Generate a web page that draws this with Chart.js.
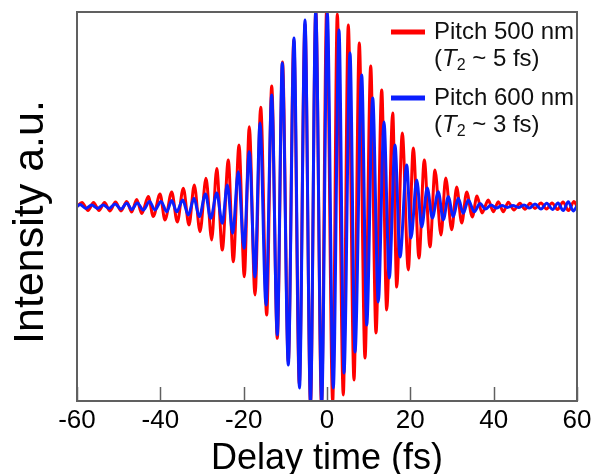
<!DOCTYPE html>
<html>
<head>
<meta charset="utf-8">
<script src="https://cdn.jsdelivr.net/npm/chart.js@4/dist/chart.umd.min.js"></script>
<style>
  html, body { margin: 0; padding: 0; background: #fff; }
  #wrap { width: 605px; height: 474px; }
</style>
</head>
<body>
<div id="wrap"><canvas id="autocorr" width="605" height="474"></canvas></div>
<script>
// Delay (fs) and normalised intensity at each peak / trough
const delayRed = [-60.00, -58.80, -57.36, -56.04, -54.72, -53.40, -52.08, -50.76, -49.44, -48.07,
  -46.87, -45.67, -44.47, -42.89, -41.69, -40.08, -38.88, -37.27, -35.93, -34.49,
  -33.12, -31.85, -30.48, -29.04, -27.67, -26.47, -25.13, -23.69, -22.49, -21.12,
  -19.85, -18.65, -17.28, -15.91, -14.47, -13.27, -11.93, -10.68, -9.29, -7.97,
  -6.65, -5.28, -3.96, -2.69, -1.32, -0.07, 1.37, 2.47, 3.91, 5.11,
  6.48, 7.75, 9.12, 10.49, 11.76, 13.13, 14.33, 15.77, 16.73, 18.07,
  19.51, 20.71, 22.08, 23.35, 24.72, 25.92, 27.36, 28.49, 29.93, 31.13,
  32.33, 33.53, 34.87, 36.00, 37.20, 38.71, 39.91, 41.11, 42.31, 43.51,
  44.88, 46.32, 47.52, 48.72, 49.92, 51.36, 52.68, 54.00, 55.32, 56.64,
  57.96, 59.28, 60.00];
const intensityRed = [0.00, 0.02, -0.02, 0.02, -0.02, 0.02, -0.023, 0.023, -0.023, 0.026,
  -0.028, 0.036, -0.036, 0.051, -0.051, 0.064, -0.069, 0.075, -0.080, 0.094,
  -0.095, 0.111, -0.130, 0.145, -0.172, 0.196, -0.224, 0.239, -0.284, 0.316,
  -0.361, 0.410, -0.455, 0.510, -0.558, 0.620, -0.678, 0.743, -0.799, 0.856,
  -0.913, 0.938, -1.02, 1.01, -1.02, 1.02, -1.005, 0.990, -0.969, 0.933,
  -0.892, 0.841, -0.779, 0.722, -0.650, 0.599, -0.532, 0.481, -0.414, 0.378,
  -0.326, 0.301, -0.265, 0.239, -0.208, 0.188, -0.147, 0.147, -0.120, 0.100,
  -0.085, 0.075, -0.054, 0.054, -0.033, 0.033, -0.027, 0.025, -0.027, 0.022,
  -0.018, 0.017, -0.014, 0.017, -0.010, 0.018, -0.013, 0.018, -0.015, 0.023,
  -0.021, 0.026, 0.00];

const delayBlue = [-60.00, -59.28, -57.84, -56.47, -55.08, -53.69, -52.32, -50.88, -49.44, -48.07,
  -46.87, -45.53, -44.09, -42.60, -41.28, -39.84, -38.47, -37.27, -36.07, -34.63,
  -33.29, -31.92, -30.65, -29.16, -27.91, -26.47, -25.13, -23.93, -22.63, -21.29,
  -19.92, -18.65, -17.28, -16.08, -14.64, -13.27, -11.93, -10.73, -9.29, -7.92,
  -6.60, -5.28, -3.96, -2.71, -1.27, 0.07, 1.51, 2.88, 4.08, 5.52,
  6.72, 8.33, 9.53, 10.97, 12.31, 13.68, 14.95, 16.32, 17.52, 19.13,
  20.16, 21.53, 22.73, 24.07, 25.27, 26.71, 27.91, 29.11, 30.31, 31.51,
  32.71, 33.91, 35.35, 36.72, 38.04, 39.36, 40.68, 42.00, 43.32, 44.64,
  45.96, 47.28, 48.60, 49.92, 51.36, 52.73, 54.12, 55.44, 56.71, 57.91,
  59.11, 60.00];
const intensityBlue = [0.00, 0.010, -0.010, 0.008, -0.010, 0.008, -0.010, 0.013, -0.013, 0.017,
  -0.015, 0.018, -0.018, 0.026, -0.018, 0.026, -0.027, 0.031, -0.027, 0.033,
  -0.044, 0.042, -0.052, 0.064, -0.061, 0.069, -0.086, 0.111, -0.138, 0.179,
  -0.215, 0.282, -0.362, 0.429, -0.506, 0.573, -0.660, 0.738, -0.815, 0.866,
  -0.933, 0.959, -1.005, 1.005, -1.010, 0.995, -0.933, 0.907, -0.856, 0.789,
  -0.748, 0.676, -0.609, 0.558, -0.491, 0.434, -0.368, 0.316, -0.260, 0.213,
  -0.162, 0.136, -0.105, 0.095, -0.059, 0.076, -0.069, 0.050, -0.052, 0.042,
  -0.035, 0.033, -0.027, 0.015, -0.013, 0.008, -0.008, 0.005, -0.005, 0.005,
  -0.005, 0.008, -0.008, 0.013, -0.013, 0.017, -0.015, 0.018, -0.021, 0.025,
  -0.023, 0.003];

const seriesLabels = ['Pitch 500 nm', 'Pitch 600 nm'];
const dephasingTimes = ['5 fs', '3 fs'];
const seriesColors = ['#ff0000', '#0a1eff'];
const xTicks = [-60, -40, -20, 0, 20, 40, 60];

const FONT = '"Liberation Sans", Arial, Helvetica, sans-serif';
Chart.defaults.font.family = FONT;
Chart.defaults.color = '#000';

function toPoints(xs, ys) {
  return xs.map((x, i) => ({ x: x, y: ys[i] }));
}

// frame, inward ticks, y title and the two-line legend
const decorations = {
  id: 'decorations',
  beforeDatasetsDraw(chart) {
    const { ctx, chartArea: a, scales } = chart;
    ctx.save();
    ctx.strokeStyle = '#606060';
    ctx.lineWidth = 1.5;
    xTicks.forEach(v => {
      const px = Math.round(scales.x.getPixelForValue(v)) + 0.5;
      ctx.beginPath();
      ctx.moveTo(px, a.bottom);
      ctx.lineTo(px, a.bottom - 14);
      ctx.stroke();
    });
    ctx.restore();
  },
  afterDraw(chart) {
    const { ctx, chartArea: a } = chart;
    ctx.save();
    ctx.strokeStyle = '#606060';
    ctx.lineWidth = 2;
    ctx.strokeRect(a.left, a.top, a.right - a.left, a.bottom - a.top);

    // y axis title
    ctx.fillStyle = '#000';
    ctx.font = '43px ' + FONT;
    ctx.textAlign = 'center';
    ctx.textBaseline = 'middle';
    ctx.translate(31, 222);
    ctx.rotate(-Math.PI / 2);
    ctx.fillText('Intensity a.u.', 0, 0);
    ctx.restore();

    // legend
    ctx.save();
    ctx.textBaseline = 'middle';
    ctx.textAlign = 'left';
    seriesLabels.forEach((label, i) => {
      const y1 = a.top + 20 + i * 66;
      const y2 = y1 + 27;
      const x0 = a.right - 186;
      ctx.strokeStyle = seriesColors[i];
      ctx.lineWidth = 5;
      ctx.beginPath();
      ctx.moveTo(x0, y1);
      ctx.lineTo(x0 + 34, y1);
      ctx.stroke();

      let tx = x0 + 43;
      ctx.fillStyle = '#111';
      ctx.font = '24px ' + FONT;
      ctx.fillText(label, tx, y1);
      ctx.fillText('(', tx, y2);
      tx += ctx.measureText('(').width;
      ctx.font = 'italic 24px ' + FONT;
      ctx.fillText('T', tx, y2);
      tx += ctx.measureText('T').width;
      ctx.font = '16px ' + FONT;
      ctx.fillText('2', tx, y2 + 7);
      tx += ctx.measureText('2').width;
      ctx.font = '24px ' + FONT;
      ctx.fillText(' ~ ' + dephasingTimes[i] + ')', tx, y2);
    });
    ctx.restore();
  }
};

new Chart(document.getElementById('autocorr'), {
  type: 'line',
  data: {
    datasets: [
      {
        label: seriesLabels[0],
        data: toPoints(delayRed, intensityRed),
        borderColor: seriesColors[0],
        order: 1
      },
      {
        label: seriesLabels[1],
        data: toPoints(delayBlue, intensityBlue),
        borderColor: seriesColors[1],
        order: 0
      }
    ]
  },
  options: {
    responsive: false,
    animation: false,
    devicePixelRatio: 1,
    layout: { padding: { top: 12, right: 28, left: 0, bottom: 0 } },
    elements: {
      line: { borderWidth: 3, cubicInterpolationMode: 'monotone', fill: false },
      point: { radius: 0, hoverRadius: 0 }
    },
    plugins: {
      legend: { display: false },
      tooltip: { enabled: false }
    },
    scales: {
      x: {
        type: 'linear',
        min: -60,
        max: 60,
        afterBuildTicks: s => { s.ticks = xTicks.map(v => ({ value: v })); },
        ticks: { font: { size: 26 }, color: '#000', padding: 4, maxRotation: 0 },
        grid: { display: false, drawTicks: false },
        border: { display: false },
        title: { display: true, text: 'Delay time (fs)', font: { size: 36 }, color: '#000', padding: { top: 0, bottom: -7 } },
        afterFit: s => { s.height = 73; }
      },
      y: {
        min: -1,
        max: 1,
        ticks: { display: false },
        grid: { display: false, drawTicks: false },
        border: { display: false },
        afterFit: s => { s.width = 77; }
      }
    }
  },
  plugins: [decorations]
});
</script>
</body>
</html>
